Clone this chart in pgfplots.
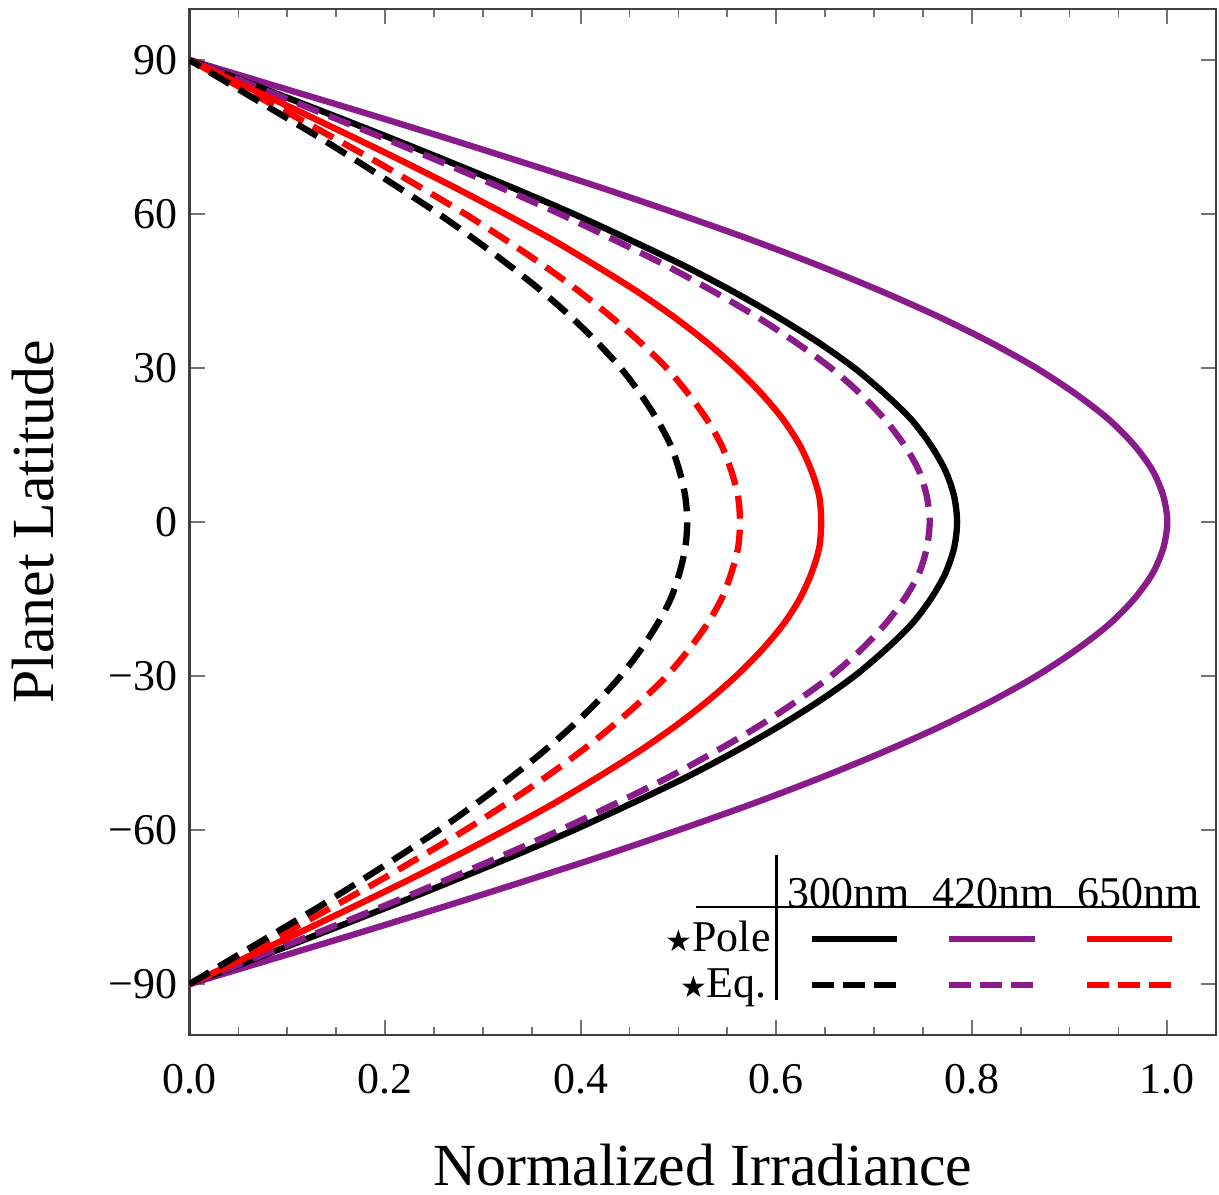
\documentclass[border=0pt]{standalone}
\usepackage{pgfplots}
\pgfplotsset{compat=1.18}
\usepackage{fontspec}
\setmainfont{Liberation Serif}
\newfontfamily\dejavu{DejaVu Sans}
\newcommand{\bstar}{{\dejavu\fontsize{8.5}{9}\selectfont ★}}
\definecolor{mpurple}{RGB}{137,27,138}
\begin{document}
\begin{tikzpicture}
\begin{axis}[
  scale only axis, width=102.67mm, height=102.67mm,
  xmin=0, xmax=1.05, ymin=-100, ymax=100,
  xtick={0,0.2,0.4,0.6,0.8,1.0}, xticklabels={0.0,0.2,0.4,0.6,0.8,1.0},
  minor xtick={0.05,0.1,0.15,0.25,0.3,0.35,0.45,0.5,0.55,0.65,0.7,0.75,0.85,0.9,0.95},
  ytick={-90,-60,-30,0,30,60,90}, yticklabels={−90,−60,−30,0,30,60,90},
  tick style={draw=black!55, line width=0.5pt},
  major tick length=1.5mm, minor tick length=0.8mm,
  axis line style={draw=black!75, line width=0.6pt},
  tick label style={font=\fontsize{12.5}{14}\selectfont},
  xticklabel style={yshift=-1.6mm},
  xlabel={Normalized Irradiance}, ylabel={Planet Latitude},
  label style={font=\fontsize{17}{20}\selectfont},
  xlabel style={at={(axis description cs:0.5,-0.126)}, anchor=center},
  ylabel style={at={(axis description cs:-0.152,0.5)}, anchor=center},
  every axis plot/.append style={line width=1.8pt, smooth},
  mydash/.style={dash pattern=on 2.3mm off 1.1mm},
]
% 420nm pole (purple solid)
\addplot[mpurple] coordinates {(0,-90)(0.087,-85)(0.174,-80)(0.259,-75)(0.342,-70)(0.423,-65)(0.500,-60)(0.574,-55)(0.643,-50)(0.707,-45)(0.766,-40)(0.819,-35)(0.866,-30)(0.906,-25)(0.940,-20)(0.966,-15)(0.985,-10)(0.996,-5)(1.000,0)(0.996,5)(0.985,10)(0.966,15)(0.940,20)(0.906,25)(0.866,30)(0.819,35)(0.766,40)(0.707,45)(0.643,50)(0.574,55)(0.500,60)(0.423,65)(0.342,70)(0.259,75)(0.174,80)(0.087,85)(0,90)};
% 300nm pole (black solid)
\addplot[black] coordinates {(0,-90)(0.068,-85)(0.136,-80)(0.203,-75)(0.268,-70)(0.332,-65)(0.393,-60)(0.450,-55)(0.505,-50)(0.555,-45)(0.601,-40)(0.643,-35)(0.680,-30)(0.711,-25)(0.738,-20)(0.758,-15)(0.773,-10)(0.782,-5)(0.785,0)(0.782,5)(0.773,10)(0.758,15)(0.738,20)(0.711,25)(0.680,30)(0.643,35)(0.601,40)(0.555,45)(0.505,50)(0.450,55)(0.393,60)(0.332,65)(0.268,70)(0.203,75)(0.136,80)(0.068,85)(0,90)};
% 420nm eq (purple dashed)
\addplot[mpurple, mydash] coordinates {(0,-90)(0.066,-85)(0.131,-80)(0.196,-75)(0.259,-70)(0.320,-65)(0.379,-60)(0.434,-55)(0.487,-50)(0.535,-45)(0.580,-40)(0.620,-35)(0.656,-30)(0.686,-25)(0.711,-20)(0.731,-15)(0.746,-10)(0.754,-5)(0.757,0)(0.754,5)(0.746,10)(0.731,15)(0.711,20)(0.686,25)(0.656,30)(0.620,35)(0.580,40)(0.535,45)(0.487,50)(0.434,55)(0.379,60)(0.320,65)(0.259,70)(0.196,75)(0.131,80)(0.066,85)(0,90)};
% 650nm pole (red solid)
\addplot[red] coordinates {(0,-90)(0.056,-85)(0.112,-80)(0.167,-75)(0.221,-70)(0.273,-65)(0.323,-60)(0.371,-55)(0.415,-50)(0.457,-45)(0.495,-40)(0.529,-35)(0.559,-30)(0.585,-25)(0.607,-20)(0.624,-15)(0.636,-10)(0.644,-5)(0.646,0)(0.644,5)(0.636,10)(0.624,15)(0.607,20)(0.585,25)(0.559,30)(0.529,35)(0.495,40)(0.457,45)(0.415,50)(0.371,55)(0.323,60)(0.273,65)(0.221,70)(0.167,75)(0.112,80)(0.056,85)(0,90)};
% 650nm eq (red dashed)
\addplot[red, mydash] coordinates {(0,-90)(0.049,-85)(0.098,-80)(0.146,-75)(0.193,-70)(0.238,-65)(0.282,-60)(0.323,-55)(0.362,-50)(0.398,-45)(0.431,-40)(0.461,-35)(0.488,-30)(0.510,-25)(0.529,-20)(0.544,-15)(0.554,-10)(0.561,-5)(0.563,0)(0.561,5)(0.554,10)(0.544,15)(0.529,20)(0.510,25)(0.488,30)(0.461,35)(0.431,40)(0.398,45)(0.362,50)(0.323,55)(0.282,60)(0.238,65)(0.193,70)(0.146,75)(0.098,80)(0.049,85)(0,90)};
% 300nm eq (black dashed)
\addplot[black, mydash] coordinates {(0,-90)(0.044,-85)(0.088,-80)(0.132,-75)(0.174,-70)(0.215,-65)(0.255,-60)(0.292,-55)(0.327,-50)(0.360,-45)(0.390,-40)(0.417,-35)(0.441,-30)(0.461,-25)(0.478,-20)(0.492,-15)(0.501,-10)(0.507,-5)(0.509,0)(0.507,5)(0.501,10)(0.492,15)(0.478,20)(0.461,25)(0.441,30)(0.417,35)(0.390,40)(0.360,45)(0.327,50)(0.292,55)(0.255,60)(0.215,65)(0.174,70)(0.132,75)(0.088,80)(0.044,85)(0,90)};
% legend table
\draw[black, line width=0.8pt] (axis cs:0.600,-64.9) -- (axis cs:0.600,-93.1);
\draw[black, line width=0.8pt] (axis cs:0.518,-75.0) -- (axis cs:1.033,-75.0);
\begin{scope}[every node/.style={inner sep=0pt, font=\fontsize{12.5}{14}\selectfont}]
\node[anchor=base] at (axis cs:0.674,-75.0) {300nm};
\node[anchor=base] at (axis cs:0.822,-75.0) {420nm};
\node[anchor=base] at (axis cs:0.971,-75.0) {650nm};
\node[anchor=base east] at (axis cs:0.595,-83.7) {\bstar Pole};
\node[anchor=base east] at (axis cs:0.591,-92.7) {\bstar Eq.};
\end{scope}
\draw[black, line width=1.8pt] (axis cs:0.637,-81.2) -- (axis cs:0.724,-81.2);
\draw[mpurple, line width=1.8pt] (axis cs:0.777,-81.2) -- (axis cs:0.865,-81.2);
\draw[red, line width=1.8pt] (axis cs:0.918,-81.2) -- (axis cs:1.005,-81.2);
\draw[black, line width=1.8pt, dash pattern=on 2.15mm off 0.95mm] (axis cs:0.637,-90.2) -- (axis cs:0.724,-90.2);
\draw[mpurple, line width=1.8pt, dash pattern=on 2.15mm off 0.95mm] (axis cs:0.777,-90.2) -- (axis cs:0.865,-90.2);
\draw[red, line width=1.8pt, dash pattern=on 2.15mm off 0.95mm] (axis cs:0.918,-90.2) -- (axis cs:1.005,-90.2);
\end{axis}
\pgfresetboundingbox
\path ([xshift=-18.95mm,yshift=-15.87mm]current axis.south west) rectangle ([xshift=0.28mm,yshift=0.87mm]current axis.north east);
\end{tikzpicture}
\end{document}
